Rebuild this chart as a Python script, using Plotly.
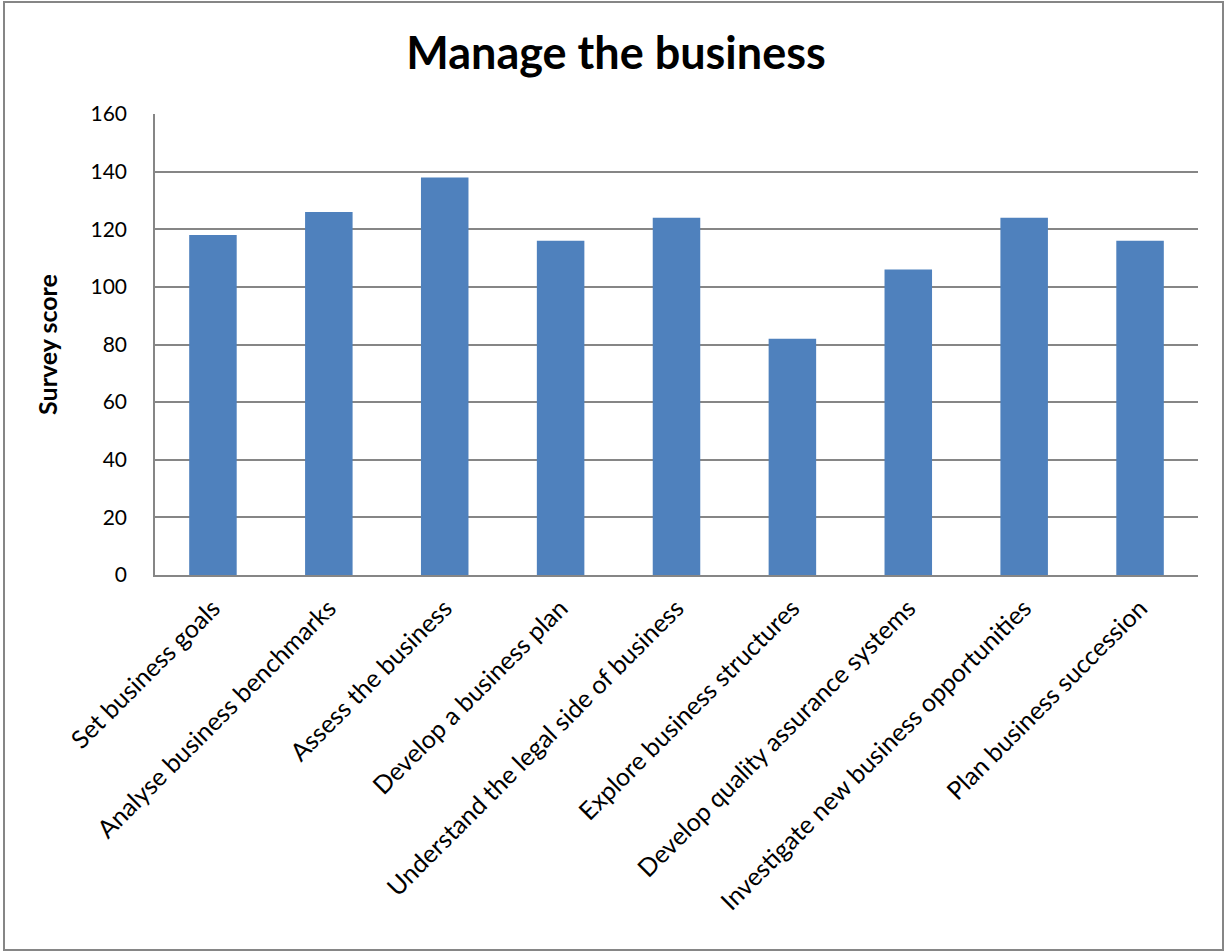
import plotly.graph_objects as go

categories = [
    "Set business goals",
    "Analyse business benchmarks",
    "Assess the business",
    "Develop a business plan",
    "Understand the legal side of business",
    "Explore business structures",
    "Develop quality assurance systems",
    "Investigate new business opportunities",
    "Plan business succession",
]
scores = [118, 126, 138, 116, 124, 82, 106, 124, 116]
y_ticks = [0, 20, 40, 60, 80, 100, 120, 140, 160]

FONT = "Lato"
W, H = 1226, 952
L, R, T, B = 155, 28, 114, 377
pw, ph = W - L - R, H - T - B

fig = go.Figure(go.Bar(x=categories, y=scores, marker=dict(color="#4F81BD", line=dict(width=0))))

fig.update_layout(
    width=W, height=H,
    margin=dict(l=L, r=R, t=T, b=B, autoexpand=False),
    paper_bgcolor="white", plot_bgcolor="white",
    bargap=0.59,
    showlegend=False,
    font=dict(family=FONT, color="black", size=20),
    title=dict(text="<b>Manage the business</b>", x=616 / W, xanchor="center",
               y=1 - 53 / H, yanchor="middle", font=dict(size=45, family=FONT)),
)
fig.update_xaxes(
    tickangle=-45, showline=True, linecolor="#868686", linewidth=1.5,
    showgrid=False, ticks="", tickfont=dict(size=25), ticklabelstandoff=7,
)
fig.update_yaxes(
    range=[0, 160], tickvals=y_ticks, showline=True, linecolor="#868686", linewidth=1.5,
    showgrid=True, gridcolor="#868686", gridwidth=1.5, ticks="", zeroline=False,
    tickfont=dict(size=21), ticklabelstandoff=22,
    title=dict(text="<b>Survey score</b>", font=dict(size=25), standoff=26),
)
fig.add_shape(type="rect", xref="paper", yref="paper",
              x0=(4 - L) / pw, x1=(1223 - L) / pw,
              y0=(H - B - 950) / ph, y1=(H - B - 2) / ph,
              line=dict(color="#868686", width=2), fillcolor="rgba(0,0,0,0)", layer="below")
fig.write_html("out.html")
